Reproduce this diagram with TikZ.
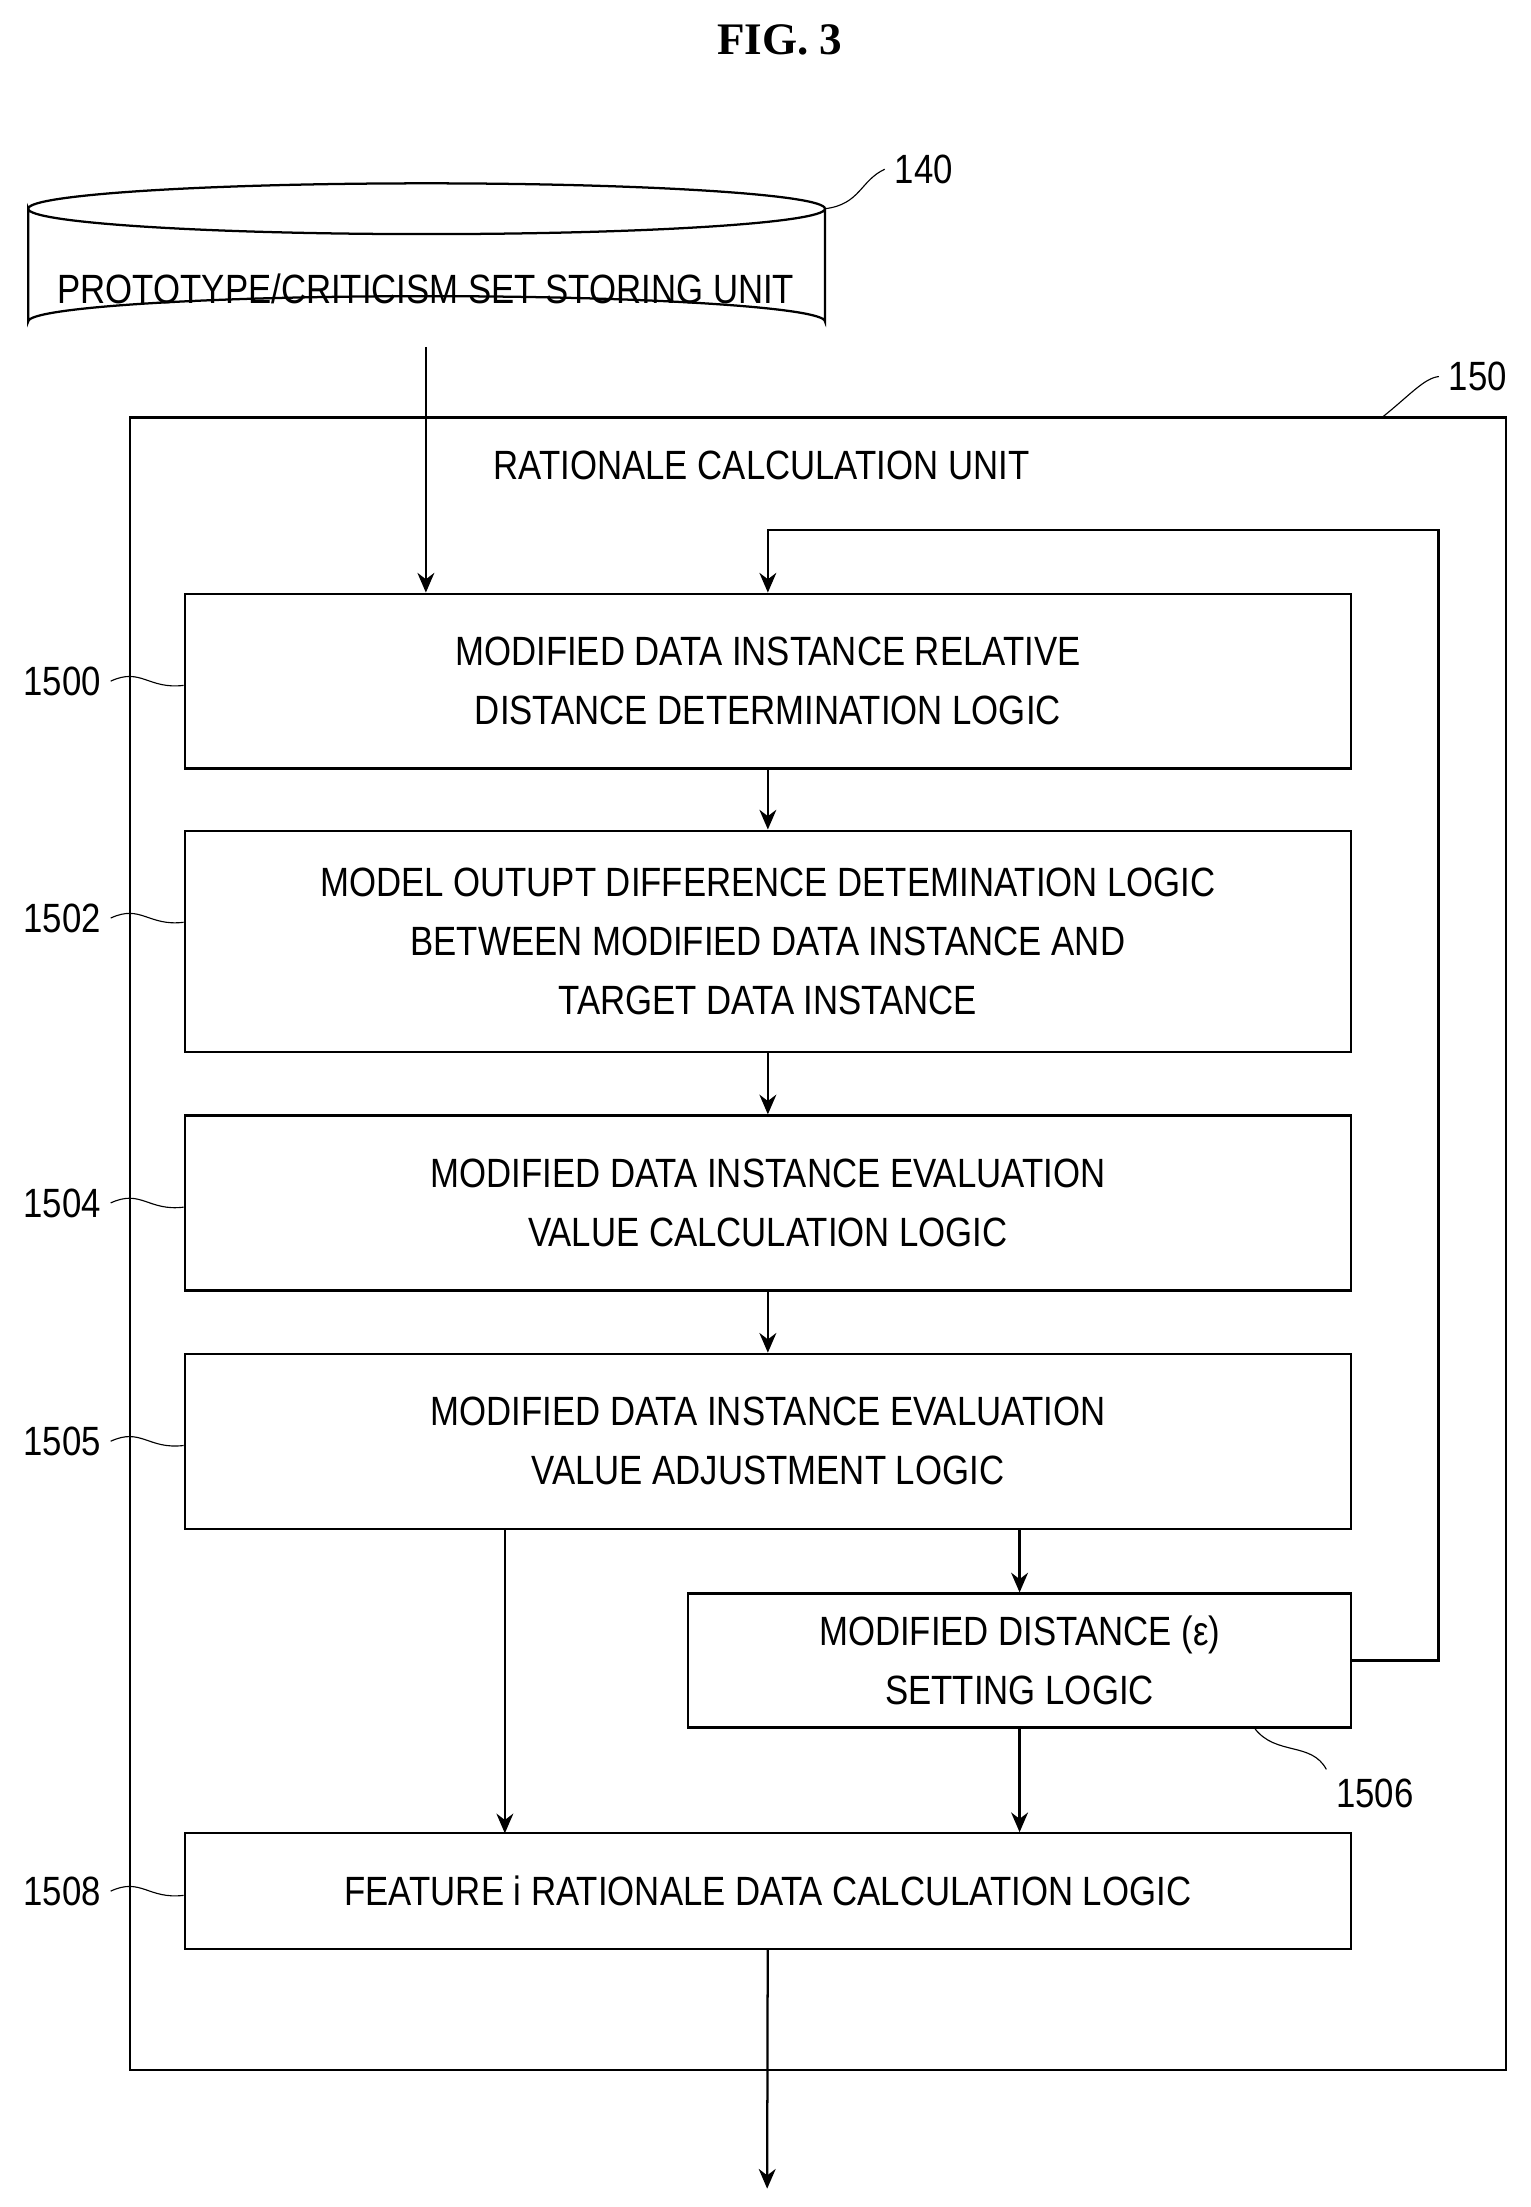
\documentclass[tikz,border=0pt]{standalone}
\usepackage{fontspec}
\setmainfont{Liberation Sans}[FakeStretch=0.85]
\newfontfamily\titlefont{Liberation Serif}
\usetikzlibrary{arrows.meta}
\tikzset{
blk/.style 2 args={draw,thick,minimum width=#1*0.5pt,minimum height=#2*0.5pt,align=center,inner sep=0pt,font=\fontsize{14.5}{21}\selectfont},
flow/.style={thick,-{Stealth[length=7pt,width=6pt]}},
lead/.style={thin},
num/.style={font=\fontsize{14.5}{17}\selectfont}
}
\begin{document}
\begin{tikzpicture}[x=0.5pt,y=-0.5pt]
\useasboundingbox (0,0) rectangle (1085,1565);
\node[font=\titlefont\bfseries\fontsize{16}{19}\selectfont] (title) at (553,28) {FIG. 3};
% storing unit
\draw[thick] (20,148) arc[start angle=180,end angle=360,x radius=282.5,y radius=18]
  arc[start angle=0,end angle=180,x radius=282.5,y radius=18] -- (20,228)
  arc[start angle=180,end angle=360,x radius=282.5,y radius=18] -- (585,148);
\node[font=\fontsize{14.5}{17}\selectfont] (store) at (302,205) {PROTOTYPE/CRITICISM SET STORING UNIT};
\coordinate (storebot) at (302,246);
\node[num] (n140) at (655,120) {140};
\draw[lead] (585,148) .. controls (610,145) and (610,128) .. (n140.west);
% rationale calculation unit
\draw[thick] (92,296) rectangle (1068,1468);
\node[font=\fontsize{14.5}{17}\selectfont] (unit) at (540,330) {RATIONALE CALCULATION UNIT};
\node[num] (n150) at (1048,267) {150};
\draw[lead] (980,296) .. controls (1000,280) and (1010,268) .. (n150.west);
% logic blocks
\node[blk={827}{124}] (b1500) at (544.5,483) {MODIFIED DATA INSTANCE RELATIVE\\DISTANCE DETERMINATION LOGIC};
\node[blk={827}{157}] (b1502) at (544.5,667.5) {MODEL OUTUPT DIFFERENCE DETEMINATION LOGIC\\BETWEEN MODIFIED DATA INSTANCE AND\\TARGET DATA INSTANCE};
\node[blk={827}{124}] (b1504) at (544.5,853) {MODIFIED DATA INSTANCE EVALUATION\\VALUE CALCULATION LOGIC};
\node[blk={827}{124}] (b1505) at (544.5,1022) {MODIFIED DATA INSTANCE EVALUATION\\VALUE ADJUSTMENT LOGIC};
\node[blk={470}{95}] (b1506) at (723,1177.5) {MODIFIED DISTANCE (ε)\\SETTING LOGIC};
\node[blk={827}{82}] (b1508) at (544.5,1341) {FEATURE i RATIONALE DATA CALCULATION LOGIC};
% reference numerals
\foreach \nm/\yy in {1500/483,1502/651,1504/853,1505/1022,1508/1341} {
\node[num] (n\nm) at (44,\yy) {\nm};
\draw[lead] (n\nm.east) .. controls (100,\yy-10) and (105,\yy+6) .. (b\nm.west |- 0,\yy+3);
}
\node[num] (n1506) at (975,1272) {1506};
\draw[lead] (890,1226) .. controls (905,1245) and (930,1235) .. (n1506.north west);
% connectors
\coordinate (out) at (544,1552);
\draw[flow] (storebot) -- (storebot |- b1500.north);
\draw[flow] (b1500) -- (b1502);
\draw[flow] (b1502) -- (b1504);
\draw[flow] (b1504) -- (b1505);
\draw[flow] (b1505.south -| b1506) -- (b1506);
\draw[flow] (b1506) -- (b1506 |- b1508.north);
\draw[flow] (358,1084) -- (358,1300);
\draw[flow] (b1506.east) -| (1020,376) -| (b1500.north);
\draw[flow] (b1508) -- (out);
\end{tikzpicture}
\end{document}
